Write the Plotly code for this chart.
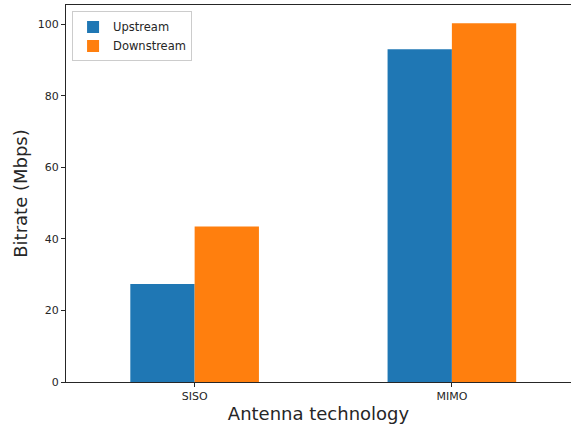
import plotly.graph_objects as go

categories = ["SISO", "MIMO"]
upstream = [27.4, 93.0]
downstream = [43.5, 100.3]
y_ticks = [0, 20, 40, 60, 80, 100]

x_idx = list(range(len(categories)))
fig = go.Figure()
fig.add_trace(go.Bar(x=[i - 0.125 for i in x_idx], y=upstream, width=0.25, name="Upstream",
                     marker=dict(color="#1f77b4", line=dict(width=0))))
fig.add_trace(go.Bar(x=[i + 0.125 for i in x_idx], y=downstream, width=0.25, name="Downstream",
                     marker=dict(color="#ff7f0e", line=dict(width=0))))

fig.update_layout(
    width=571, height=426,
    margin=dict(l=66, r=0, t=5, b=44, autoexpand=False),
    paper_bgcolor="white", plot_bgcolor="white",
    font=dict(family="DejaVu Sans", color="#262626", size=11),
    barmode="overlay",
    showlegend=True,
    legend=dict(x=0.012, y=0.983, xanchor="left", yanchor="top",
                bgcolor="rgba(255,255,255,0.8)", bordercolor="#cccccc", borderwidth=1,
                font=dict(size=11.5), tracegroupgap=0, itemsizing="constant"),
    xaxis=dict(range=[-0.5, 1.463], tickmode="array", tickvals=x_idx, ticktext=categories,
               showline=True, linecolor="#262626", linewidth=1, mirror=True,
               ticks="outside", ticklen=4, tickcolor="#262626", showgrid=False, zeroline=False,
               tickfont=dict(size=11),
               title=dict(text="Antenna technology", font=dict(size=18), standoff=5)),
    yaxis=dict(range=[0, 105.4], tickmode="array", tickvals=y_ticks,
               showline=True, linecolor="#262626", linewidth=1,
               ticks="outside", ticklen=4, tickcolor="#262626", showgrid=False, zeroline=False,
               tickfont=dict(size=11),
               title=dict(text="Bitrate (Mbps)", font=dict(size=18), standoff=5)),
)
fig.write_html("out.html", config={"displayModeBar": False},
               post_script="document.body.style.margin='0';document.body.style.overflow='hidden';")
